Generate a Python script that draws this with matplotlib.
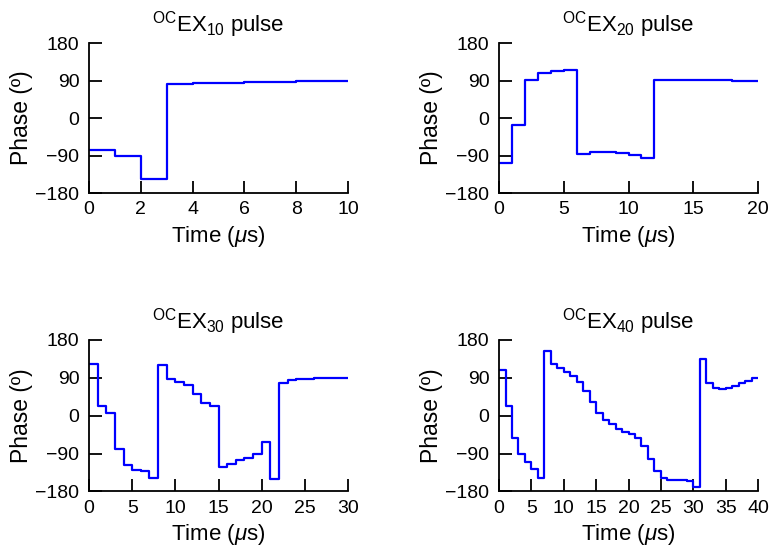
import numpy as np
import matplotlib
matplotlib.use('Agg')
import matplotlib.pyplot as plt

plt.rcParams['font.family'] = ['Liberation Sans', 'DejaVu Sans']
plt.rcParams['mathtext.fontset'] = 'custom'
plt.rcParams['mathtext.rm'] = 'Liberation Sans'
plt.rcParams['mathtext.it'] = 'Liberation Sans:italic'

# phase of each 1 us segment (degrees)
phase_10 = [-76, -90, -147, 81, 83, 85, 86, 87, 88.5, 90]
phase_20 = [-108, -17, 91, 108, 112, 116, -86, -82, -82, -84,
            -88, -96, 92, 91.5, 91.5, 91, 91, 90.5, 90, 89.5]
phase_30 = [124, 22, 7, -79, -118, -130, -132, -148, 120, 87,
            79, 73, 51, 31, 23, -121, -114, -105, -101, -92,
            -63, -150, 77, 84, 87, 88, 88.5, 89, 89.5, 90]
phase_40 = [108, 22, -52, -90, -110, -126, -148, 154, 124, 114,
            104, 95, 79, 59, 33, 7, -9, -20, -31, -38,
            -44, -52, -71, -102, -132, -148, -152, -152, -153, -155,
            -170, 135, 77, 65, 64, 66, 71, 77, 83, 90]

pulses = [('10', phase_10, [0, 2, 4, 6, 8, 10]),
          ('20', phase_20, [0, 5, 10, 15, 20]),
          ('30', phase_30, [0, 5, 10, 15, 20, 25, 30]),
          ('40', phase_40, [0, 5, 10, 15, 20, 25, 30, 35, 40])]

fig = plt.figure(figsize=(7.79, 5.58), dpi=100)
boxes = [[0.1143, 0.6541, 0.3325, 0.2688],
         [0.6406, 0.6541, 0.3325, 0.2688],
         [0.1143, 0.1192, 0.3325, 0.2715],
         [0.6406, 0.1192, 0.3325, 0.2715]]

for (name, vals, xt), box in zip(pulses, boxes):
    ax = fig.add_axes(box)
    t = np.arange(len(vals) + 1)
    ax.step(t, list(vals) + [vals[-1]], where='post', color='#0000ff', lw=1.6)
    ax.set_xlim(0, len(vals))
    ax.set_ylim(-180, 180)
    ax.set_xticks(xt)
    ax.set_yticks([-180, -90, 0, 90, 180])
    for s in ['top', 'right']:
        ax.spines[s].set_visible(False)
    for s in ['left', 'bottom']:
        ax.spines[s].set_linewidth(1.3)
    ax.tick_params(direction='in', length=9, width=1.3, labelsize=14)
    ax.tick_params(axis='x', pad=6)
    ax.tick_params(axis='y', pad=7)
    ax.set_xlabel(r'Time ($\mu$s)', fontsize=16, labelpad=4)
    ax.set_ylabel('Phase (º)', fontsize=16.5, labelpad=2)
    ax.set_title(r'$^{\mathrm{OC}}$EX$_{%s}$ pulse' % name, fontsize=16, pad=8)

fig.savefig('out.png', dpi=100)
